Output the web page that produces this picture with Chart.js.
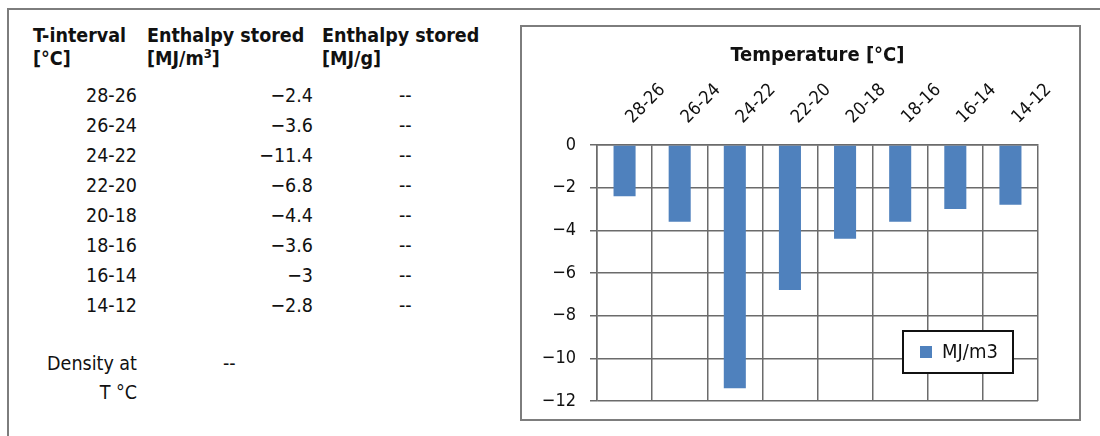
<!DOCTYPE html>
<html>
<head>
<meta charset="utf-8">
<script src="https://cdn.jsdelivr.net/npm/chart.js@4.4.0/dist/chart.umd.min.js"></script>
<style>
  html, body { margin: 0; padding: 0; background: #fff; }
  body { width: 1100px; height: 436px; overflow: hidden; position: relative;
         font-family: "DejaVu Sans Condensed", "Noto Sans", sans-serif; color: #111; }
  #frame { position: absolute; left: 7px; top: 8px; width: 1200px; height: 600px;
           border-top: 2px solid #7d7d7d; border-left: 2px solid #7d7d7d; }
  .t { position: absolute; font-size: 19.5px; line-height: 23px; white-space: nowrap; }
  .b { font-weight: bold; }
  .r { text-align: right; }
  .t sup { font-size: 13px; line-height: 0; }
  #box { position: absolute; left: 520px; top: 25px; width: 557px; height: 392px;
         border: 2px solid #7d7d7d; }
  #box canvas { display: block; }
</style>
</head>
<body>
<div id="frame"></div>
<div id="table"></div>
<div id="box"><canvas id="chart" width="557" height="392"></canvas></div>

<script>
// data
var categories = ['28-26', '26-24', '24-22', '22-20', '20-18', '18-16', '16-14', '14-12'];
var enthalpyVolume = [-2.4, -3.6, -11.4, -6.8, -4.4, -3.6, -3, -2.8];   // MJ/m3
var enthalpyMass = ['--', '--', '--', '--', '--', '--', '--', '--'];     // MJ/g
var densityValue = '--';
var seriesLabel = 'MJ/m3';
var yMin = -12, yMax = 0, yStep = 2;

var fontStack = '"DejaVu Sans Condensed", "Noto Sans", sans-serif';
var gridColor = '#6b6b6b';
var barColor = '#4f81bd';

function fmt(v) {
    // the source uses a real minus sign
    return v < 0 ? '\u2212' + Math.abs(v) : String(v);
}

// left hand table
function addText(html, x, y, cls, alignRight) {
    var d = document.createElement('div');
    d.className = 't ' + (cls || '') + (alignRight ? ' r' : '');
    d.innerHTML = html;
    d.style.top = y + 'px';
    if (alignRight) {
        d.style.left = (x - 200) + 'px';
        d.style.width = '200px';
    } else {
        d.style.left = x + 'px';
    }
    document.getElementById('table').appendChild(d);
}

addText('T-interval', 33, 24, 'b');
addText('[°C]', 33, 47, 'b');
addText('Enthalpy stored', 147, 24, 'b');
addText('[MJ/m<sup>3</sup>]', 147, 47, 'b');
addText('Enthalpy stored', 322, 24, 'b');
addText('[MJ/g]', 322, 47, 'b');

categories.forEach(function(c, i) {
    var top = 84 + 30 * i;
    addText(c, 137, top, '', true);
    addText(fmt(enthalpyVolume[i]), 313, top, '', true);
    addText(enthalpyMass[i], 399, top, '');
});
addText('Density at', 137, 352, '', true);
addText('T °C', 137, 381, '', true);
addText(densityValue, 223, 352, '');

// legend box drawn inside the plot, bottom right
var boxLegend = {
    id: 'boxLegend',
    afterDatasetsDraw: function(chart) {
        var ctx = chart.ctx, area = chart.chartArea;
        var ds = chart.data.datasets[0];
        var w = 110, h = 42;
        var x = area.right - 25 - w, y = area.bottom - 28 - h;
        ctx.save();
        ctx.fillStyle = '#fff';
        ctx.fillRect(x, y, w, h);
        ctx.lineWidth = 2;
        ctx.strokeStyle = '#111';
        ctx.strokeRect(x, y, w, h);
        ctx.fillStyle = ds.backgroundColor;
        ctx.fillRect(x + 17, y + h / 2 - 6, 12, 12);
        ctx.fillStyle = '#111';
        ctx.font = '20px ' + fontStack;
        ctx.textBaseline = 'middle';
        ctx.fillText(ds.label, x + 39, y + h / 2 + 1);
        ctx.restore();
    }
};

Chart.defaults.font.family = fontStack;
Chart.defaults.color = '#111';

var ctx = document.getElementById('chart').getContext('2d');
var myChart = new Chart(ctx, {
    type: 'bar',
    data: {
        labels: categories,
        datasets: [{
            label: seriesLabel,
            data: enthalpyVolume,
            backgroundColor: barColor,
            borderWidth: 0,
            barPercentage: 0.4,
            categoryPercentage: 1.0
        }]
    },
    plugins: [boxLegend],
    options: {
        responsive: false,
        animation: false,
        layout: { padding: { left: 0, right: 41, top: 0, bottom: 18 } },
        plugins: {
            legend: { display: false },
            tooltip: { enabled: false }
        },
        scales: {
            x: {
                position: 'top',
                offset: true,
                grid: { offset: true, color: gridColor, lineWidth: 1.5, drawTicks: false },
                border: { color: gridColor, width: 1.5 },
                ticks: { minRotation: 45, maxRotation: 45, padding: 17, labelOffset: 20, font: { size: 18 }, color: '#111' },
                title: {
                    display: true,
                    text: 'Temperature [°C]',
                    font: { size: 20, weight: 'bold' },
                    color: '#111',
                    padding: { top: 17, bottom: 0 }
                },
                afterFit: function(s) { s.height = 118; }
            },
            y: {
                min: yMin,
                max: yMax,
                ticks: {
                    stepSize: yStep,
                    padding: 14,
                    font: { size: 18 },
                    color: '#111',
                    callback: function(v) { return fmt(v); }
                },
                grid: { color: gridColor, lineWidth: 1.5, tickLength: 7 },
                border: { color: gridColor, width: 1.5 },
                afterFit: function(s) {
                    s.width = 75;
                    // don't let the label padding push the plot bottom up
                    s.paddingTop = 0;
                    s.paddingBottom = 0;
                }
            }
        }
    }
});
</script>
</body>
</html>
